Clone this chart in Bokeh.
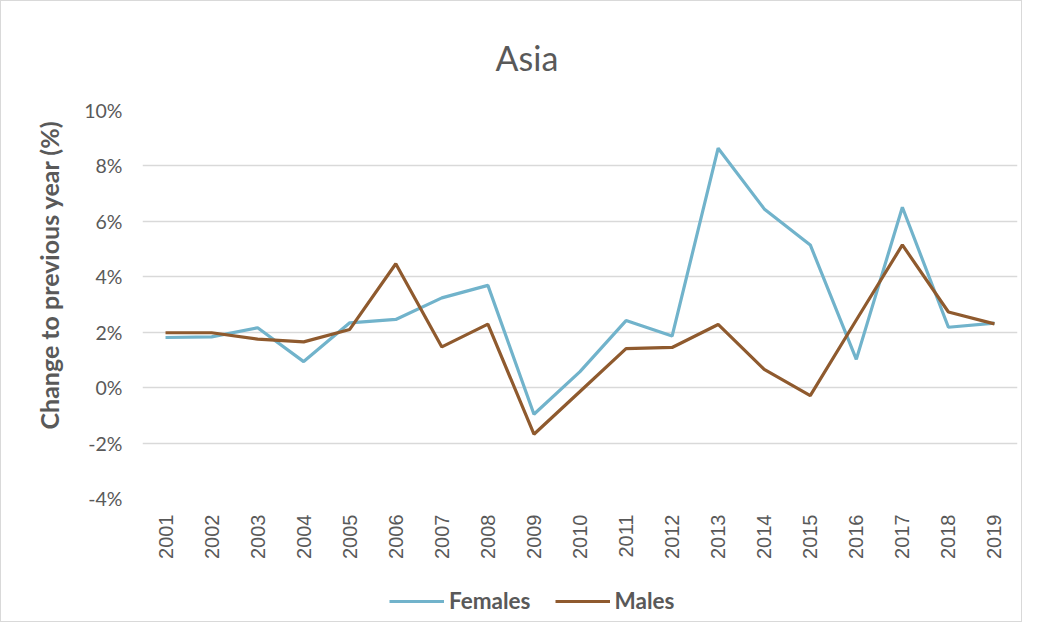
from bokeh.plotting import figure
from bokeh.layouts import column
from bokeh.models import FactorRange, Range1d, Legend, LegendItem, FixedTicker, CustomJSTickFormatter, Title
from bokeh.embed import file_html
from bokeh.resources import INLINE

years = [str(y) for y in range(2001, 2020)]
females = [1.81, 1.83, 2.16, 0.94, 2.34, 2.46, 3.24, 3.69, -0.96, 0.58, 2.42, 1.86, 8.64, 6.45, 5.15, 1.02, 6.51, 2.18, 2.33]
males = [1.98, 1.98, 1.75, 1.65, 2.10, 4.47, 1.47, 2.29, -1.68, -0.14, 1.41, 1.45, 2.28, 0.66, -0.29, 2.44, 5.15, 2.73, 2.30]
y_ticks = [-4, -2, 0, 2, 4, 6, 8, 10]

FEM = "#71B3CB"
MAL = "#8F5A2E"
TXT = "#595959"
FONT = "Lato"
W = 1020

p = figure(width=W, height=576, x_range=FactorRange(*years), y_range=Range1d(-4, 10),
           output_backend="svg", toolbar_location=None,
           min_border_left=141, min_border_right=4, min_border_top=107, min_border_bottom=79)
p.outline_line_color = None
p.background_fill_color = "white"
p.border_fill_color = "white"

p.title.text = "Asia"
p.title.align = "left"
p.title.offset = 353
p.title.text_font = FONT
p.title.text_font_style = "normal"
p.title.text_font_size = "34px"
p.title.text_color = TXT
p.title.standoff = 66

p.line(years, females, line_color=FEM, line_width=3.2)
p.line(years, males, line_color=MAL, line_width=3.2)

p.xgrid.grid_line_color = None
p.ygrid.grid_line_color = "#d9d9d9"
p.ygrid.grid_line_width = 1.3

p.yaxis.ticker = FixedTicker(ticks=y_ticks)
p.yaxis.formatter = CustomJSTickFormatter(code="return tick + '%';")
p.yaxis.axis_line_color = None
p.yaxis.major_tick_line_color = None
p.yaxis.minor_tick_line_color = None
p.yaxis.major_label_text_font = FONT
p.yaxis.major_label_text_font_size = "19.5px"
p.yaxis.major_label_text_color = TXT
p.yaxis.major_label_standoff = 14

ylab = Title(text="Change to previous year (%)", align="left", offset=69,
             text_font=FONT, text_font_style="bold", text_font_size="25px",
             text_color=TXT, standoff=36)
p.add_layout(ylab, "left")

p.xaxis.axis_line_color = None
p.xaxis.major_tick_line_color = None
p.xaxis.minor_tick_line_color = None
p.xaxis.major_label_orientation = 1.5707963
p.xaxis.major_label_text_font = "Liberation Sans"
p.xaxis.major_label_text_font_size = "20px"
p.xaxis.major_label_text_color = TXT
p.xaxis.major_label_standoff = 10

# legend strip (its lines sit outside the visible y range, only the legend shows)
lf = figure(width=W, height=44, x_range=FactorRange(*years), y_range=Range1d(1000, 1001),
            output_backend="svg", toolbar_location=None, x_axis_type=None, y_axis_type=None,
            min_border_left=0, min_border_right=0, min_border_top=0, min_border_bottom=0)
lf.outline_line_color = None
lf.xgrid.grid_line_color = None
lf.ygrid.grid_line_color = None
l1 = lf.line(years, females, line_color=FEM, line_width=3.2)
l2 = lf.line(years, males, line_color=MAL, line_width=3.2)
legend = Legend(items=[LegendItem(label="Females", renderers=[l1]), LegendItem(label="Males", renderers=[l2])],
                orientation="horizontal", location=(247, 7),
                label_text_font=FONT, label_text_font_style="bold", label_text_font_size="22.5px",
                label_text_color=TXT, glyph_width=55, label_standoff=5, spacing=24,
                border_line_color=None, background_fill_alpha=0, padding=4, margin=0)
lf.add_layout(legend, "center")

layout = column(p, lf, spacing=0, styles={"border": "1px solid #d9d9d9"})
open("out.html", "w").write(file_html(layout, INLINE))
